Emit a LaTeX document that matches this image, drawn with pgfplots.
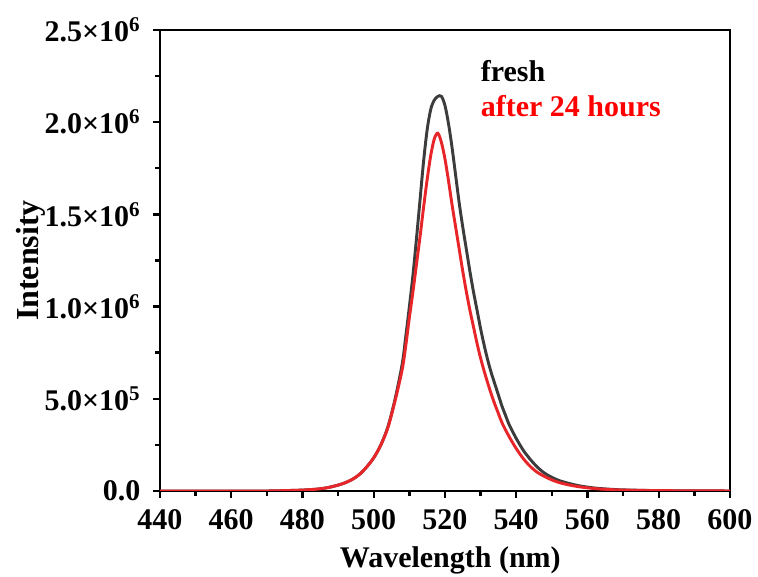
\documentclass[border=0pt]{standalone}
\usepackage{fontspec}
\setmainfont{Liberation Serif}
\usepackage{pgfplots}
\pgfplotsset{compat=1.18}
\definecolor{cblack}{HTML}{3C3C3C}
\definecolor{cred}{HTML}{E8262A}
\begin{document}
\fontsize{22.5}{26}\selectfont
\begin{tikzpicture}
\begin{axis}[
  scale only axis,
  width=427.5pt, height=345.75pt,
  xmin=440, xmax=600, ymin=0, ymax=2.5e6,
  axis line style={line width=2.2pt},
  xtick={440,460,...,600},
  xticklabels={440,460,480,500,520,540,560,580,600},
  ytick={0,5e5,1e6,1.5e6,2e6,2.5e6},
  yticklabels={0.0, 5.0×10\textsuperscript{5}, 1.0×10\textsuperscript{6}, 1.5×10\textsuperscript{6}, 2.0×10\textsuperscript{6}, 2.5×10\textsuperscript{6}},
  scaled y ticks=false,
  minor x tick num=1, minor y tick num=1,
  tick align=outside,
  xtick pos=bottom, ytick pos=left,
  major tick length=5pt, minor tick length=3.5pt,
  tick style={line width=1.8pt, black},
  tick label style={font=\fontsize{22.5}{26}\selectfont\bfseries},
  xticklabel style={yshift=-1pt},
  yticklabel style={xshift=-2pt},
  xlabel={\bfseries Wavelength (nm)},
  ylabel={\bfseries Intensity},
  xlabel style={font=\fontsize{22.5}{26}\selectfont, yshift=2pt, xshift=4pt},
  ylabel style={font=\fontsize{24}{26}\selectfont, yshift=-15.5pt},
  clip=true,
]
\addplot[cblack, line width=2.2pt, smooth] coordinates {
(440,0) (450,0) (460,0) (470,0) (475,2e3) (480,5e3) (484,1e4) (487,1.8e4) (490,3.2e4) (492,4.5e4) (494,6.3e4) (496,9e4) (498,1.3e5) (500,1.8e5) (502,2.5e5) (504,3.5e5) (506,5.0e5) (508,6.9e5) (509,8.4e5) (510,1.0e6) (511,1.17e6) (512,1.37e6) (513,1.58e6) (514,1.79e6) (515,1.96e6) (516,2.07e6) (517,2.12e6) (518,2.14e6) (519,2.14e6) (520,2.09e6) (521,1.99e6) (522,1.86e6) (523,1.71e6) (524,1.56e6) (525,1.43e6) (526,1.31e6) (527,1.19e6) (528,1.08e6) (529,9.8e5) (530,8.8e5) (531,7.9e5) (532,7.1e5) (533,6.4e5) (534,5.8e5) (535,5.2e5) (536,4.6e5) (537,4.1e5) (538,3.6e5) (540,2.85e5) (542,2.2e5) (544,1.7e5) (546,1.28e5) (548,9.6e4) (550,7.4e4) (552,5.7e4) (555,4e4) (558,2.7e4) (562,1.6e4) (566,1e4) (570,6e3) (580,2e3) (590,1e3) (600,0)
};
\addplot[cred, line width=2.2pt, smooth] coordinates {
(440,0) (450,0) (460,0) (470,0) (475,2e3) (480,5e3) (484,1e4) (487,1.8e4) (490,3.2e4) (492,4.5e4) (494,6.3e4) (496,9e4) (498,1.3e5) (500,1.8e5) (502,2.5e5) (504,3.45e5) (506,4.9e5) (508,6.6e5) (509,7.9e5) (510,9.4e5) (511,1.08e6) (512,1.23e6) (513,1.38e6) (514,1.54e6) (515,1.69e6) (516,1.82e6) (517,1.91e6) (518,1.94e6) (519,1.89e6) (520,1.80e6) (521,1.68e6) (522,1.55e6) (523,1.43e6) (524,1.31e6) (525,1.19e6) (526,1.08e6) (527,9.8e5) (528,8.9e5) (529,8.0e5) (530,7.2e5) (531,6.5e5) (532,5.85e5) (533,5.25e5) (534,4.7e5) (535,4.2e5) (536,3.7e5) (538,2.95e5) (540,2.3e5) (542,1.75e5) (544,1.32e5) (546,1.0e5) (548,7.8e4) (550,6e4) (552,4.6e4) (555,3.2e4) (558,2.2e4) (562,1.3e4) (566,8e3) (570,5e3) (580,2e3) (600,0)
};
\node[anchor=base west, font=\fontsize{22.5}{26}\selectfont\bfseries, text=black, inner sep=0pt] at (axis cs:530,2.22e6) {fresh};
\node[anchor=base west, font=\fontsize{22.5}{26}\selectfont\bfseries, text=red, inner sep=0pt] at (axis cs:530,2.03e6) {after 24 hours};
\end{axis}
\pgfresetboundingbox
\path ([shift={(-120pt,-64.5pt)}]current axis.south west) rectangle ([shift={(21pt,22.5pt)}]current axis.north east);
\end{tikzpicture}
\end{document}
